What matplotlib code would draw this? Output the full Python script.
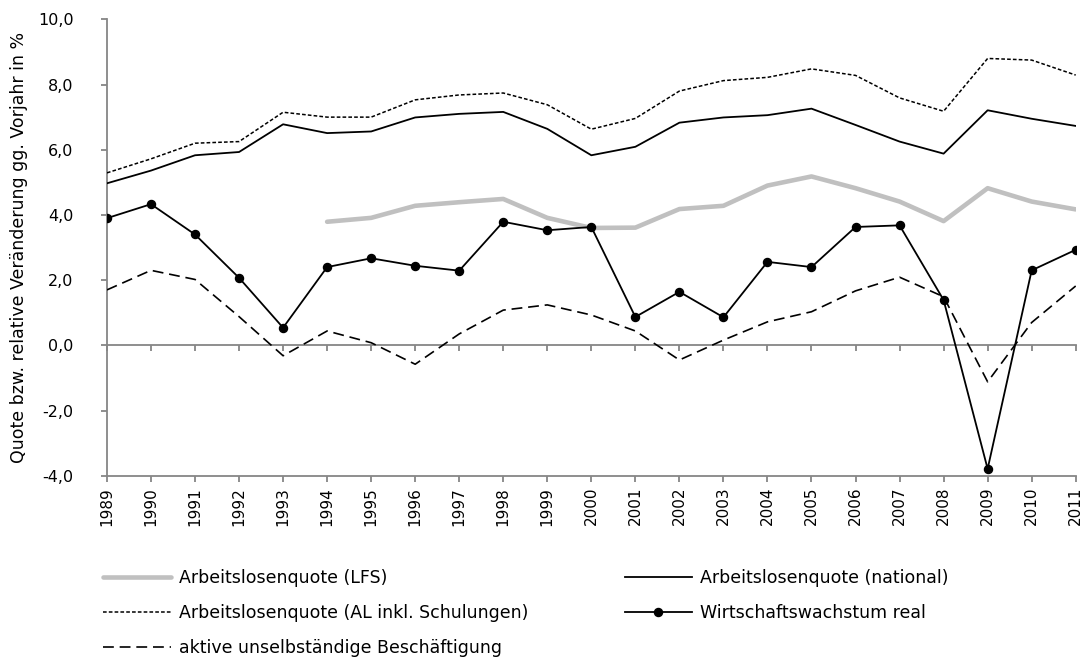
import matplotlib
matplotlib.use("Agg")
import matplotlib.pyplot as plt
from matplotlib.ticker import FuncFormatter, MultipleLocator

# --------------------------------------------
# Data
# --------------------------------------------
years = list(range(1989, 2012))

alq_national = [4.97, 5.36, 5.83, 5.93, 6.78, 6.51, 6.56, 6.99, 7.10, 7.16, 6.64, 5.83,
                6.09, 6.83, 6.99, 7.06, 7.26, 6.76, 6.25, 5.88, 7.21, 6.95, 6.73]

alq_schulung = [5.29, 5.72, 6.20, 6.25, 7.15, 7.00, 7.00, 7.53, 7.68, 7.74, 7.38, 6.63,
                6.96, 7.80, 8.12, 8.22, 8.48, 8.28, 7.59, 7.18, 8.80, 8.75, 8.29]

lfs_years = list(range(1994, 2012))
alq_lfs = [3.79, 3.91, 4.28, 4.39, 4.49, 3.91, 3.60, 3.61, 4.18, 4.28, 4.90, 5.18,
           4.82, 4.41, 3.81, 4.82, 4.41, 4.17]

wachstum = [3.90, 4.33, 3.40, 2.07, 0.54, 2.40, 2.67, 2.44, 2.29, 3.79, 3.53, 3.63,
            0.87, 1.64, 0.86, 2.56, 2.40, 3.63, 3.68, 1.39, -3.79, 2.30, 2.93]

beschaeftigung = [1.70, 2.30, 2.02, 0.88, -0.32, 0.44, 0.08, -0.58, 0.35, 1.08, 1.24, 0.93,
                  0.44, -0.45, 0.16, 0.72, 1.03, 1.67, 2.09, 1.49, -1.12, 0.70, 1.82]

GREY_AXIS = "#868686"

# --------------------------------------------
# Figure
# --------------------------------------------
plt.rcParams["font.family"] = ["DejaVu Sans"]

fig = plt.figure(figsize=(10.88, 6.62), dpi=100)
ax = fig.add_axes([0.0983, 0.2814, 0.8904, 0.6894])

l_lfs, = ax.plot(lfs_years, alq_lfs, color="#C0C0C0", lw=3.3, solid_capstyle="round",
                 label="Arbeitslosenquote (LFS)", zorder=3)
l_nat, = ax.plot(years, alq_national, color="black", lw=1.3,
                 label="Arbeitslosenquote (national)", zorder=3)
l_sch, = ax.plot(years, alq_schulung, color="black", lw=1.1, dashes=(2.4, 1.4),
                 label="Arbeitslosenquote (AL inkl. Schulungen)", zorder=3)
l_wir, = ax.plot(years, wachstum, color="black", lw=1.3, marker="o", markersize=5.8,
                 label="Wirtschaftswachstum real", zorder=4)
l_bes, = ax.plot(years, beschaeftigung, color="black", lw=1.2, dashes=(6.5, 3.5),
                 label="aktive unselbständige Beschäftigung", zorder=3)

ax.set_xlim(1989, 2011)
ax.set_ylim(-4, 10)
ax.yaxis.set_major_locator(MultipleLocator(2))
ax.yaxis.set_major_formatter(FuncFormatter(lambda v, p: f"{v:.1f}".replace(".", ",")))
ax.set_xticks(years)
ax.set_xticklabels([str(y) for y in years], rotation=90)

for s in ["top", "right"]:
    ax.spines[s].set_visible(False)
for s in ["left", "bottom"]:
    ax.spines[s].set_color(GREY_AXIS)
    ax.spines[s].set_linewidth(1.3)

ax.tick_params(axis="y", direction="out", length=4, width=1.3, color=GREY_AXIS,
               labelsize=11.5, pad=20)
ax.tick_params(axis="x", direction="out", length=4, width=1.3, color=GREY_AXIS,
               labelsize=11, pad=4)

# zero line with its own tick marks
zero = ax.secondary_xaxis(4 / 14)
zero.set_xticks(years)
zero.set_xticklabels([])
zero.spines["bottom"].set_color(GREY_AXIS)
zero.spines["bottom"].set_linewidth(1.3)
zero.tick_params(direction="out", length=4, width=1.3, color=GREY_AXIS)

ax.set_ylabel("Quote bzw. relative Veränderung gg. Vorjahr in %", fontsize=12.5, labelpad=4)
ax.yaxis.set_label_coords(-0.082, 0.5)

# --------------------------------------------
# Legend in two columns
# --------------------------------------------
leg_kw = dict(frameon=False, fontsize=12.5, handlelength=3.9, handletextpad=0.45,
              labelspacing=0.98, borderaxespad=0, borderpad=0, loc="upper left")
leg1 = fig.legend(handles=[l_lfs, l_sch, l_bes], bbox_to_anchor=(0.095, 0.141), **leg_kw)
leg2 = fig.legend(handles=[l_nat, l_wir], bbox_to_anchor=(0.574, 0.141), **leg_kw)

plt.savefig("out.png", dpi=100)
plt.close()
